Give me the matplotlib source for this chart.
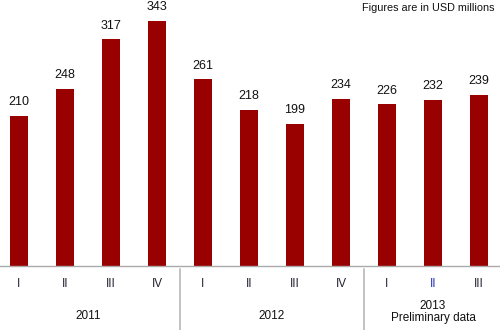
import matplotlib
matplotlib.use("Agg")
import matplotlib.pyplot as plt

plt.rcParams['font.family'] = ['Liberation Sans', 'DejaVu Sans']

quarters = ["I", "II", "III", "IV", "I", "II", "III", "IV", "I", "II", "III"]
values = [210, 248, 317, 343, 261, 218, 199, 234, 226, 232, 239]
years = ["2011", "2012", "2013\nPreliminary data"]
year_spans = [(0, 3), (4, 7), (8, 10)]

fig = plt.figure(figsize=(5, 3.3), dpi=100)
ax = fig.add_axes([0, 0.194, 1, 0.806])

x = list(range(len(values)))
ax.bar(x, values, width=0.41, color='#990000')
for xi, v in zip(x, values):
    ax.annotate(str(v), (xi, v), xytext=(0, 5.5), textcoords='offset points',
                ha='center', va='bottom', fontsize=9, color='#111111')

ax.set_xlim(-0.413, 10.457)
ax.set_ylim(0, 372)
ax.axis('off')

# baseline
ax.axhline(0, color='#aaaaaa', lw=1, clip_on=False)

# quarter labels
for xi, q in enumerate(quarters):
    col = '#2233bb' if xi == 9 else '#222233'
    ax.annotate(q, (xi, 0), xytext=(0, -13), textcoords='offset points',
                ha='center', va='center', fontsize=8.5, color=col, annotation_clip=False)

# separators between years
for sx in [3.5, 7.5]:
    ax.annotate('', (sx, 0), xytext=(sx, -50), textcoords=('data', 'offset points'),
                arrowprops=dict(arrowstyle='-', color='#aaaaaa', lw=1), annotation_clip=False)

# year labels
for (a, b), y in zip(year_spans, years):
    off = -36 if '\n' not in y else -33
    ax.annotate(y, ((a + b) / 2, 0), xytext=(0, off), textcoords='offset points',
                ha='center', va='center', fontsize=8.5, color='#111111',
                annotation_clip=False, linespacing=1.0)

fig.text(0.99, 0.975, "Figures are in USD millions", ha='right', va='center', fontsize=7.8, color='#111111')

fig.savefig("out.png", dpi=100)
